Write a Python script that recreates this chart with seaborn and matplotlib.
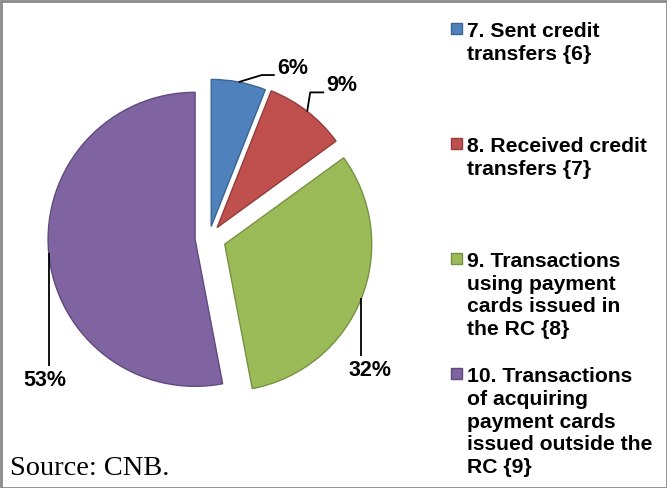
import numpy as np
import matplotlib.pyplot as plt
from matplotlib.patches import Rectangle
import seaborn as sns

# data
categories = ["7. Sent credit\ntransfers {6}",
              "8. Received credit\ntransfers {7}",
              "9. Transactions\nusing payment\ncards issued in\nthe RC {8}",
              "10. Transactions\nof acquiring\npayment cards\nissued outside the\nRC {9}"]
shares = [6, 9, 32, 53]
pct_labels = ["6%", "9%", "32%", "53%"]

fill_colors = ["#4F81BD", "#C0504D", "#9BBB59", "#8064A2"]
edge_colors = ["#3A6494", "#943C3A", "#779244", "#5F4A7D"]
explode = [0.08, 0.09, 0.115, 0.095]

# leader lines (pixel offsets from the arc point) and label offsets
leader_paths = [[(0, 0), (23, 7), (36, 7)],
                [(0, 0), (3, 19), (17, 19)],
                [(0, 0), (0, -58)],
                [(0, 0), (0, -113)]]
label_offsets = [(39, 14, "left"), (19, 26, "left"),
                 (9, -72, "center"), (-4, -127, "center")]

sns.set_theme(style="white")
plt.rcParams['font.family'] = ['Liberation Sans', 'DejaVu Sans']

W, H = 667, 488
R = 147
fig = plt.figure(figsize=(W / 100, H / 100), dpi=100)
ax = fig.add_axes([0, 0, 1, 1])

# matplotlib's explode is in data units, so scale by the radius
wedges, _ = ax.pie(shares, explode=[e * R for e in explode],
                   colors=sns.color_palette(fill_colors),
                   startangle=90, counterclock=False, center=(209, 250), radius=R,
                   wedgeprops=dict(linewidth=1.0))
for w, ec in zip(wedges, edge_colors):
    w.set_edgecolor(ec)

ax.set_xlim(0, W)
ax.set_ylim(0, H)
ax.set_aspect('equal')
ax.axis('off')

for w, lab, path, (tx, ty, ha) in zip(wedges, pct_labels, leader_paths, label_offsets):
    th = np.deg2rad((w.theta1 + w.theta2) / 2)
    cx, cy = w.center
    ax0, ay0 = cx + w.r * np.cos(th), cy + w.r * np.sin(th)
    xs = [ax0 + p[0] for p in path]
    ys = [ay0 + p[1] for p in path]
    ax.plot(xs, ys, color='black', lw=1.3, solid_capstyle='butt')
    ax.text(ax0 + tx, ay0 + ty, lab, ha=ha, va='center', fontsize=15.5,
            fontweight='bold', color='black')

# legend
for i, (lab, c, ec) in enumerate(zip(categories, fill_colors, edge_colors)):
    top = 22 + i * 115
    ax.text(467, H - top, lab, ha='left', va='top', fontsize=15.2,
            fontweight='bold', color='black', linespacing=1.25)
    ax.add_patch(Rectangle((451, H - top - 12), 11, 11, fc=c, ec=ec, lw=1))

ax.text(10, 13, "Source: CNB.", family=['Liberation Serif', 'DejaVu Serif'],
        fontsize=20.4, va='baseline', color='black')

ax.add_patch(Rectangle((0.5, 0.5), W - 1, H - 1, fill=False, ec='#8a8a8a',
                       lw=2, clip_on=False))

fig.savefig('out.png', dpi=100)
